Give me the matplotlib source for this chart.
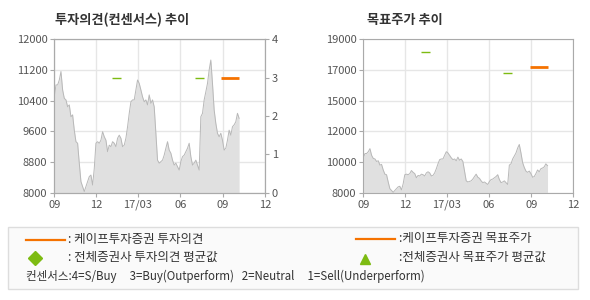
import matplotlib
matplotlib.use('Agg')
import matplotlib.pyplot as plt
import matplotlib.patches as mpatches
import matplotlib.lines as mlines
import pandas as pd

plt.rcParams['font.family'] = ['Noto Sans CJK KR', 'DejaVu Sans']

# 주가 (일정 간격으로 읽은 값)
price = [10500, 10810, 10810, 10940, 11160, 10680, 10460, 10420, 10240, 10290,
         9980, 10030, 9630, 9330, 9290, 8770, 8290, 8160, 8030, 8160,
         8290, 8420, 8460, 8200, 8630, 9290, 9330, 9290, 9370, 9590,
         9460, 9370, 9070, 9240, 9200, 9330, 9290, 9200, 9420, 9500,
         9420, 9200, 9240, 9420, 9720, 10070, 10370, 10420, 10420, 10680,
         10940, 10850, 10680, 10500, 10370, 10420, 10290, 10550, 10330, 10420,
         10240, 9550, 8850, 8770, 8810, 8850, 8980, 9160, 9330, 9110,
         9030, 8850, 8720, 8770, 8680, 8590, 8810, 8940, 8980, 9070,
         9160, 9290, 8940, 8720, 8770, 8850, 8720, 8590, 9980, 10070,
         10420, 10630, 10850, 11200, 11460, 10850, 10160, 9810, 9550, 9460,
         9550, 9370, 9110, 9160, 9370, 9630, 9500, 9720, 9770, 9850,
         10070, 9940]
price_start = '2016-09-01'
price_end = '2017-10-06'

# 투자의견 (시작, 끝, 값)
opinion_avg = [('2017-01-04', '2017-01-23', 3), ('2017-07-02', '2017-07-21', 3)]
opinion_kape = [('2017-08-28', '2017-10-06', 3)]
# 목표주가
target_avg = [('2017-01-04', '2017-01-23', 18100), ('2017-07-02', '2017-07-21', 16600)]
target_kape = [('2017-08-28', '2017-10-06', 17000)]

x_ticks = ['2016-09-01', '2016-12-01', '2017-03-01', '2017-06-01', '2017-09-01', '2017-12-01']
x_labels = ['09', '12', '17/03', '06', '09', '12']
left_yticks = [8000, 8800, 9600, 10400, 11200, 12000]
right_yticks = [8000, 10200, 12400, 14600, 16800, 19000]
right_ylabels = ['8000', '10000', '12000', '15000', '17000', '19000']

GREEN = '#7dbb12'
ORANGE = '#f57200'
FILL = '#e0e0e0'
LINE = '#b8b8b8'
GRID = '#e6e6e6'
SPINE = '#aaaaaa'
TXT = '#555555'

dates = pd.date_range(price_start, price_end, periods=len(price))
xmin, xmax = pd.Timestamp(x_ticks[0]), pd.Timestamp(x_ticks[-1])

fig = plt.figure(figsize=(5.9, 3.0), dpi=100)


def style_axes(ax, yticks, ylabels, ylim):
    ax.set_xlim(xmin, xmax)
    ax.set_ylim(*ylim)
    ax.set_xticks(pd.to_datetime(x_ticks))
    ax.set_xticklabels(x_labels)
    ax.set_yticks(yticks)
    ax.set_yticklabels(ylabels)
    ax.grid(True, color=GRID, linewidth=1)
    ax.set_axisbelow(True)
    for s in ax.spines.values():
        s.set_color(SPINE)
    ax.tick_params(colors=TXT, labelsize=8, length=3, width=0.8, pad=2)
    ax.tick_params(axis='x', color=SPINE)
    ax.tick_params(axis='y', color=SPINE)


def draw_price(ax, base):
    ax.fill_between(dates, price, base, color=FILL, linewidth=0, zorder=1)
    ax.plot(dates, price, color=LINE, linewidth=0.7, zorder=2)


def draw_segments(ax, segs, color, lw):
    for s, e, v in segs:
        ax.plot([pd.Timestamp(s), pd.Timestamp(e)], [v, v], color=color,
                linewidth=lw, solid_capstyle='butt', zorder=4)


# 왼쪽: 투자의견 추이
ax1 = fig.add_axes([54.3 / 590, 107.3 / 300, 210.7 / 590, 153.4 / 300])
style_axes(ax1, left_yticks, [str(v) for v in left_yticks], (8000, 12000))
draw_price(ax1, 8000)
ax1b = ax1.twinx()
ax1b.set_ylim(0, 4)
ax1b.set_yticks([0, 1, 2, 3, 4])
ax1b.tick_params(colors=TXT, labelsize=8, length=3, width=0.8, pad=2)
ax1b.tick_params(axis='y', color=SPINE)
for s in ax1b.spines.values():
    s.set_color(SPINE)
draw_segments(ax1b, opinion_avg, GREEN, 1.0)
draw_segments(ax1b, opinion_kape, ORANGE, 2.0)

# 오른쪽: 목표주가 추이
ax2 = fig.add_axes([363.3 / 590, 107.3 / 300, 210 / 590, 153.4 / 300])
style_axes(ax2, right_yticks, right_ylabels, (8000, 19000))
draw_price(ax2, 8000)
draw_segments(ax2, target_avg, GREEN, 1.0)
draw_segments(ax2, target_kape, ORANGE, 2.0)

fig.text(55 / 590, 1 - 20 / 300, '투자의견(컨센서스) 추이', fontsize=9.5,
         fontweight='bold', color='#333333', va='center', ha='left')
fig.text(367 / 590, 1 - 20 / 300, '목표주가 추이', fontsize=9.5,
         fontweight='bold', color='#333333', va='center', ha='left')

# 범례 상자
box = mpatches.Rectangle((8 / 590, 1 - 289 / 300), 570 / 590, 62 / 300,
                         transform=fig.transFigure, facecolor='#fafafa',
                         edgecolor='#dddddd', linewidth=1)
fig.patches.append(box)


def fx(px):
    return px / 590


def fy(py):
    return 1 - py / 300


fig.lines.append(mlines.Line2D([fx(26), fx(65)], [fy(239.5), fy(239.5)],
                               transform=fig.transFigure, color=ORANGE, linewidth=1.6))
fig.lines.append(mlines.Line2D([fx(35)], [fy(257.5)], transform=fig.transFigure,
                               marker='D', markersize=7, color=GREEN, linestyle='none'))
fig.lines.append(mlines.Line2D([fx(356), fx(395)], [fy(238.5), fy(238.5)],
                               transform=fig.transFigure, color=ORANGE, linewidth=1.6))
fig.lines.append(mlines.Line2D([fx(365)], [fy(259)], transform=fig.transFigure,
                               marker='^', markersize=7, color=GREEN, linestyle='none'))

lkw = dict(fontsize=9, color='#333333', va='center', ha='left')
fig.text(fx(68), fy(239.5), ': 케이프투자증권 투자의견', **lkw)
fig.text(fx(68), fy(257.5), ': 전체증권사 투자의견 평균값', **lkw)
fig.text(fx(399), fy(238.5), ':케이프투자증권 목표주가', **lkw)
fig.text(fx(399), fy(257.5), ':전체증권사 목표주가 평균값', **lkw)
fig.text(fx(26), fy(276), '컨센서스:4=S/Buy     3=Buy(Outperform)   2=Neutral     1=Sell(Underperform)',
         fontsize=8.3, color='#333333', va='center', ha='left')

fig.savefig('out.png', dpi=100)
